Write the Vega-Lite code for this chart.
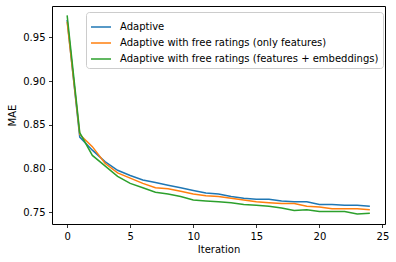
{
  "$schema": "https://vega.github.io/schema/vega-lite/v6.json",
  "width": 333,
  "height": 218,
  "autosize": {"type": "none"},
  "padding": {"left": 52, "top": 6, "right": 11, "bottom": 38},
  "background": "white",
  "config": {
    "font": "DejaVu Sans",
    "view": {"stroke": "#000", "strokeWidth": 1},
    "axis": {
      "domain": false, "grid": false, "tickColor": "#000", "tickSize": 3.5, "tickWidth": 0.8,
      "labelFont": "DejaVu Sans", "labelFontSize": 10, "labelColor": "#000", "labelPadding": 3.5,
      "titleFont": "DejaVu Sans", "titleFontSize": 10, "titleFontWeight": "normal", "titleColor": "#000"
    }
  },
  "data": {"values": [
    {"it": 0, "s": "Adaptive", "mae": 0.970},
    {"it": 1, "s": "Adaptive", "mae": 0.836},
    {"it": 2, "s": "Adaptive", "mae": 0.821},
    {"it": 3, "s": "Adaptive", "mae": 0.808},
    {"it": 4, "s": "Adaptive", "mae": 0.798},
    {"it": 5, "s": "Adaptive", "mae": 0.792},
    {"it": 6, "s": "Adaptive", "mae": 0.787},
    {"it": 7, "s": "Adaptive", "mae": 0.784},
    {"it": 8, "s": "Adaptive", "mae": 0.781},
    {"it": 9, "s": "Adaptive", "mae": 0.778},
    {"it": 10, "s": "Adaptive", "mae": 0.775},
    {"it": 11, "s": "Adaptive", "mae": 0.772},
    {"it": 12, "s": "Adaptive", "mae": 0.771},
    {"it": 13, "s": "Adaptive", "mae": 0.768},
    {"it": 14, "s": "Adaptive", "mae": 0.766},
    {"it": 15, "s": "Adaptive", "mae": 0.765},
    {"it": 16, "s": "Adaptive", "mae": 0.765},
    {"it": 17, "s": "Adaptive", "mae": 0.763},
    {"it": 18, "s": "Adaptive", "mae": 0.762},
    {"it": 19, "s": "Adaptive", "mae": 0.762},
    {"it": 20, "s": "Adaptive", "mae": 0.759},
    {"it": 21, "s": "Adaptive", "mae": 0.759},
    {"it": 22, "s": "Adaptive", "mae": 0.758},
    {"it": 23, "s": "Adaptive", "mae": 0.758},
    {"it": 24, "s": "Adaptive", "mae": 0.757},
    {"it": 0, "s": "Adaptive with free ratings (only features)", "mae": 0.968},
    {"it": 1, "s": "Adaptive with free ratings (only features)", "mae": 0.839},
    {"it": 2, "s": "Adaptive with free ratings (only features)", "mae": 0.825},
    {"it": 3, "s": "Adaptive with free ratings (only features)", "mae": 0.806},
    {"it": 4, "s": "Adaptive with free ratings (only features)", "mae": 0.795},
    {"it": 5, "s": "Adaptive with free ratings (only features)", "mae": 0.789},
    {"it": 6, "s": "Adaptive with free ratings (only features)", "mae": 0.783},
    {"it": 7, "s": "Adaptive with free ratings (only features)", "mae": 0.778},
    {"it": 8, "s": "Adaptive with free ratings (only features)", "mae": 0.777},
    {"it": 9, "s": "Adaptive with free ratings (only features)", "mae": 0.774},
    {"it": 10, "s": "Adaptive with free ratings (only features)", "mae": 0.771},
    {"it": 11, "s": "Adaptive with free ratings (only features)", "mae": 0.769},
    {"it": 12, "s": "Adaptive with free ratings (only features)", "mae": 0.768},
    {"it": 13, "s": "Adaptive with free ratings (only features)", "mae": 0.766},
    {"it": 14, "s": "Adaptive with free ratings (only features)", "mae": 0.764},
    {"it": 15, "s": "Adaptive with free ratings (only features)", "mae": 0.762},
    {"it": 16, "s": "Adaptive with free ratings (only features)", "mae": 0.761},
    {"it": 17, "s": "Adaptive with free ratings (only features)", "mae": 0.760},
    {"it": 18, "s": "Adaptive with free ratings (only features)", "mae": 0.760},
    {"it": 19, "s": "Adaptive with free ratings (only features)", "mae": 0.757},
    {"it": 20, "s": "Adaptive with free ratings (only features)", "mae": 0.756},
    {"it": 21, "s": "Adaptive with free ratings (only features)", "mae": 0.754},
    {"it": 22, "s": "Adaptive with free ratings (only features)", "mae": 0.754},
    {"it": 23, "s": "Adaptive with free ratings (only features)", "mae": 0.754},
    {"it": 24, "s": "Adaptive with free ratings (only features)", "mae": 0.753},
    {"it": 0, "s": "Adaptive with free ratings (features + embeddings)", "mae": 0.975},
    {"it": 1, "s": "Adaptive with free ratings (features + embeddings)", "mae": 0.841},
    {"it": 2, "s": "Adaptive with free ratings (features + embeddings)", "mae": 0.815},
    {"it": 3, "s": "Adaptive with free ratings (features + embeddings)", "mae": 0.803},
    {"it": 4, "s": "Adaptive with free ratings (features + embeddings)", "mae": 0.791},
    {"it": 5, "s": "Adaptive with free ratings (features + embeddings)", "mae": 0.783},
    {"it": 6, "s": "Adaptive with free ratings (features + embeddings)", "mae": 0.778},
    {"it": 7, "s": "Adaptive with free ratings (features + embeddings)", "mae": 0.773},
    {"it": 8, "s": "Adaptive with free ratings (features + embeddings)", "mae": 0.771},
    {"it": 9, "s": "Adaptive with free ratings (features + embeddings)", "mae": 0.768},
    {"it": 10, "s": "Adaptive with free ratings (features + embeddings)", "mae": 0.764},
    {"it": 11, "s": "Adaptive with free ratings (features + embeddings)", "mae": 0.763},
    {"it": 12, "s": "Adaptive with free ratings (features + embeddings)", "mae": 0.762},
    {"it": 13, "s": "Adaptive with free ratings (features + embeddings)", "mae": 0.761},
    {"it": 14, "s": "Adaptive with free ratings (features + embeddings)", "mae": 0.759},
    {"it": 15, "s": "Adaptive with free ratings (features + embeddings)", "mae": 0.758},
    {"it": 16, "s": "Adaptive with free ratings (features + embeddings)", "mae": 0.757},
    {"it": 17, "s": "Adaptive with free ratings (features + embeddings)", "mae": 0.755},
    {"it": 18, "s": "Adaptive with free ratings (features + embeddings)", "mae": 0.752},
    {"it": 19, "s": "Adaptive with free ratings (features + embeddings)", "mae": 0.753},
    {"it": 20, "s": "Adaptive with free ratings (features + embeddings)", "mae": 0.751},
    {"it": 21, "s": "Adaptive with free ratings (features + embeddings)", "mae": 0.751},
    {"it": 22, "s": "Adaptive with free ratings (features + embeddings)", "mae": 0.751},
    {"it": 23, "s": "Adaptive with free ratings (features + embeddings)", "mae": 0.748},
    {"it": 24, "s": "Adaptive with free ratings (features + embeddings)", "mae": 0.749}
  ]},
  "mark": {"type": "line", "strokeWidth": 1.5},
  "encoding": {
    "x": {"field": "it", "type": "quantitative", "title": "Iteration",
      "scale": {"domain": [-1.2, 25.2], "nice": false, "zero": false},
      "axis": {"values": [0, 5, 10, 15, 20, 25], "format": "d", "titlePadding": 3}},
    "y": {"field": "mae", "type": "quantitative", "title": "MAE",
      "scale": {"domain": [0.7366, 0.9858], "nice": false, "zero": false},
      "axis": {"values": [0.75, 0.80, 0.85, 0.90, 0.95], "format": ".2f", "titlePadding": 5}},
    "color": {"field": "s", "type": "nominal", "title": null,
      "sort": ["Adaptive", "Adaptive with free ratings (only features)", "Adaptive with free ratings (features + embeddings)"],
      "scale": {"range": ["#1f77b4", "#ff7f0e", "#2ca02c"]},
      "legend": {"orient": "none", "legendX": 34, "legendY": 6, "padding": 4,
        "fillColor": "white", "strokeColor": "#cccccc", "cornerRadius": 3,
        "symbolType": "stroke", "symbolSize": 400, "symbolStrokeWidth": 1.5,
        "labelFontSize": 10, "labelFont": "DejaVu Sans", "labelColor": "#000", "labelOffset": 8,
        "labelLimit": 0, "rowPadding": -4}
    }
  }
}
